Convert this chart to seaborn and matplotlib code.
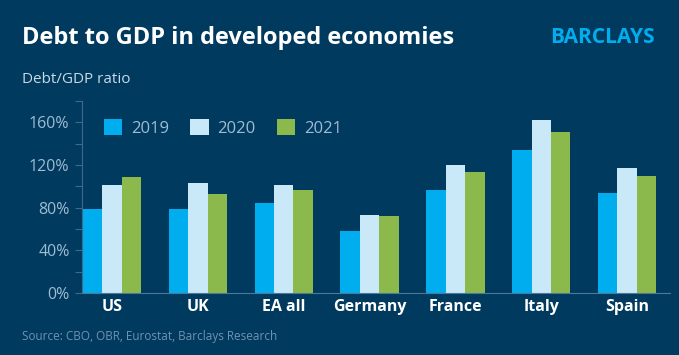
import matplotlib.pyplot as plt
import matplotlib.ticker as mticker
import pandas as pd
import seaborn as sns

countries = ['US', 'UK', 'EA all', 'Germany', 'France', 'Italy', 'Spain']
years = ['2019', '2020', '2021']
debt_2019 = [79, 79, 84, 58, 97, 134, 94]
debt_2020 = [101, 103, 101, 73, 120, 162, 117]
debt_2021 = [109, 93, 97, 72, 113, 151, 110]

df = pd.DataFrame({
    'country': countries * 3,
    'year': [y for y in years for _ in countries],
    'ratio': debt_2019 + debt_2020 + debt_2021,
})

bg = '#003a5f'
tick_col = '#9fbcd3'
palette = {'2019': '#00aeef', '2020': '#c9e9f9', '2021': '#8cb94b'}

sns.set_style('white')
plt.rcParams['font.family'] = ['Open Sans', 'DejaVu Sans']

fig = plt.figure(figsize=(6.79, 3.55), dpi=100, facecolor=bg)
ax = fig.add_axes([0.1208, 0.1746, 0.866, 0.541])
ax.set_facecolor(bg)

sns.barplot(data=df, x='country', y='ratio', hue='year', order=countries,
            hue_order=years, palette=palette, width=0.68, saturation=1,
            linewidth=0, ax=ax)

ax.set_ylim(0, 180)
ax.set_xlim(-0.35, 6.5)
ax.yaxis.set_major_locator(mticker.MultipleLocator(40))
ax.yaxis.set_minor_locator(mticker.MultipleLocator(20))
ax.yaxis.set_major_formatter(mticker.FuncFormatter(lambda v, p: f'{int(v)}%'))
ax.tick_params(axis='y', which='both', left=True, direction='out', colors='#3f6a8a',
               labelcolor=tick_col, labelsize=11.5, length=5, width=0.8, pad=4)
ax.tick_params(axis='x', length=0, labelcolor='white', labelsize=11.5, pad=4)
for lab in ax.get_xticklabels():
    lab.set_fontweight('bold')
ax.set_xlabel('')
ax.set_ylabel('')

for s in ['top', 'right']:
    ax.spines[s].set_visible(False)
ax.spines['left'].set_color('#3f6a8a')
ax.spines['bottom'].set_color('#4f7896')
ax.spines['left'].set_linewidth(0.8)
ax.spines['bottom'].set_linewidth(0.8)

leg = ax.legend(loc='upper left', bbox_to_anchor=(0.012, 0.985), ncol=3, frameon=False,
                fontsize=12, handlelength=1.1, handleheight=1.1, columnspacing=1.3,
                handletextpad=0.5)
for t in leg.get_texts():
    t.set_color(tick_col)

fig.text(0.032, 0.893, 'Debt to GDP in developed economies', color='white',
         fontsize=17, fontweight='bold', va='center', ha='left')
fig.text(0.032, 0.775, 'Debt/GDP ratio', color='#c9d9e6', fontsize=11,
         va='center', ha='left')
fig.text(0.965, 0.895, 'BARCLAYS', color='#00aeef', fontsize=15,
         fontweight='bold', va='center', ha='right')
fig.text(0.032, 0.052, 'Source: CBO, OBR, Eurostat, Barclays Research',
         color='#6f93b0', fontsize=8.5, va='center', ha='left')

fig.savefig('out.png', dpi=100, facecolor=bg)
